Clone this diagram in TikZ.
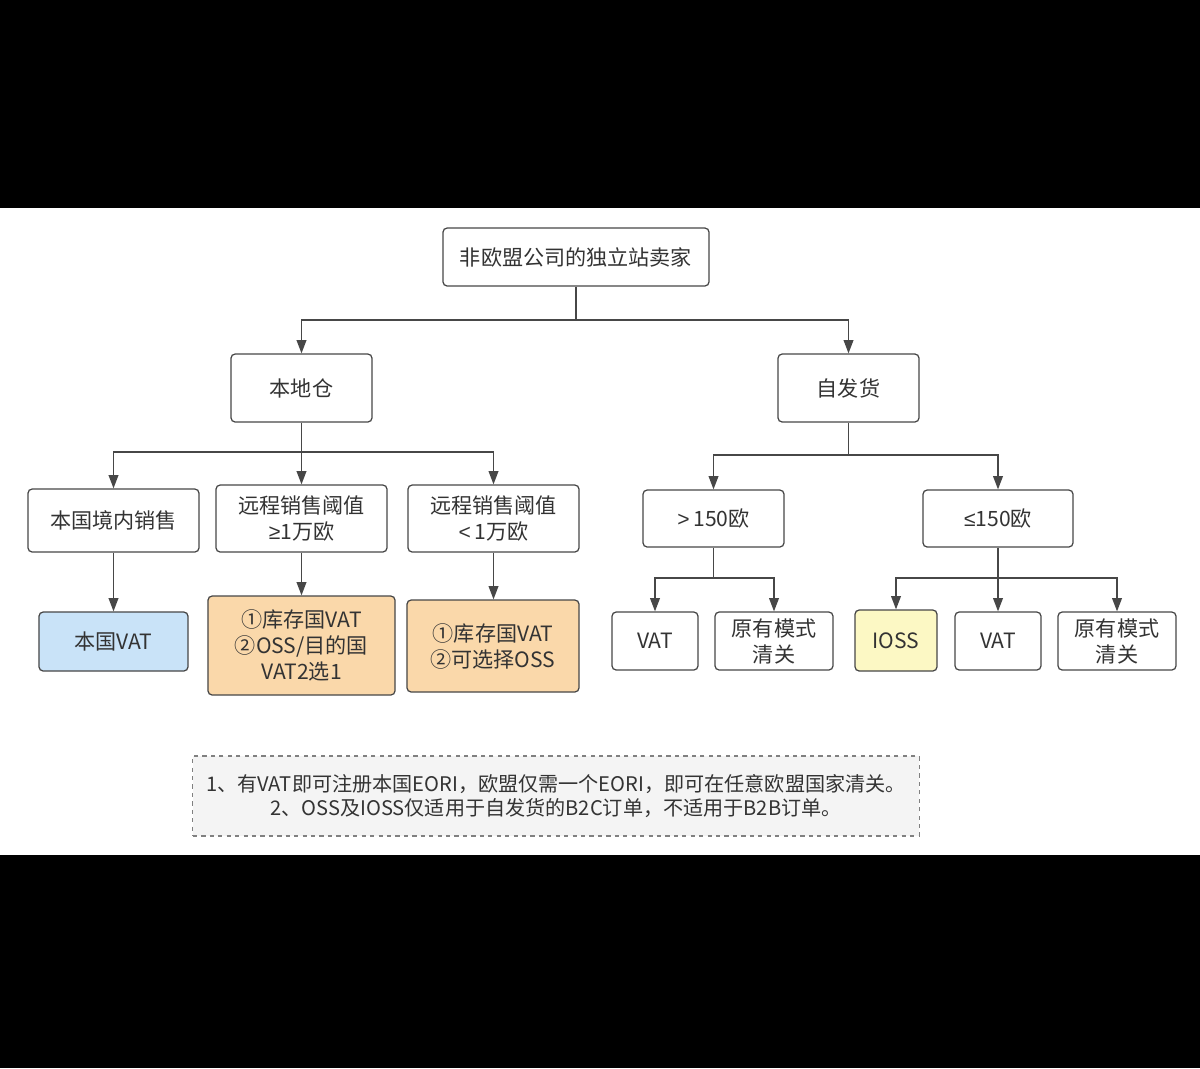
\documentclass[tikz,border=0pt]{standalone}
\usepackage{fontspec}
\setmainfont{Noto Sans CJK SC}
\newfontfamily\signfont{Liberation Sans}
\usetikzlibrary{arrows.meta}
\definecolor{linegray}{HTML}{474747}
\definecolor{textgray}{HTML}{333333}
\definecolor{vatblue}{HTML}{C9E3F8}
\definecolor{ossorange}{HTML}{FAD8AA}
\definecolor{iossyellow}{HTML}{FCF8C4}
\definecolor{notegray}{HTML}{F4F4F4}
\begin{document}
\begin{tikzpicture}[x=0.025cm,y=-0.025cm,
  box/.style={draw=linegray, line width=0.9pt, rounded corners=3pt, fill=white,
    text=textgray, align=center, inner sep=0pt, font=\fontsize{15}{18.5}\selectfont},
  link/.style={draw=linegray, line width=0.9pt},
  arr/.style={link, -{Triangle[length=9.5pt,width=7pt]}}]
  %Frame of the screenshot
  \fill[black] (0,0) rectangle (1200,1068);
  \fill[white] (0,208) rectangle (1200,855);

  %Seller
  \node[box, minimum width=6.65cm, minimum height=1.45cm] (seller) at (576,257) {非欧盟公司的独立站卖家};

  %Two ways of shipping
  \node[box, minimum width=3.525cm, minimum height=1.7cm] (local) at (301.5,388) {本地仓};
  \node[box, minimum width=3.525cm, minimum height=1.7cm] (self) at (848.5,388) {自发货};

  %Local warehouse
  \node[box, minimum width=4.275cm, minimum height=1.575cm] (domestic) at (113.5,520.5) {本国境内销售};
  \node[box, minimum width=4.275cm, minimum height=1.675cm] (above) at (301.5,518.5) {远程销售阈值\\{\signfont ≥}1万欧};
  \node[box, minimum width=4.275cm, minimum height=1.675cm] (below) at (493.5,518.5) {远程销售阈值\\{\signfont <\,}1万欧};
  \node[box, fill=vatblue, minimum width=3.725cm, minimum height=1.475cm] (domvat) at (113.5,641.5) {本国VAT};
  \node[box, fill=ossorange, minimum width=4.675cm, minimum height=2.475cm] (abovevat) at (301.5,645.5) {①库存国VAT\\②OSS/目的国\\VAT2选1};
  \node[box, fill=ossorange, minimum width=4.3cm, minimum height=2.3cm] (belowvat) at (493,646) {①库存国VAT\\②可选择OSS};

  %Self shipping
  \node[box, minimum width=3.525cm, minimum height=1.425cm] (high) at (713.5,518.5) {{\signfont >\,}150欧};
  \node[box, minimum width=3.75cm, minimum height=1.425cm] (low) at (998,518.5) {{\signfont ≤}150欧};
  \node[box, minimum width=2.15cm, minimum height=1.45cm] (highvat) at (655,641) {VAT};
  \node[box, minimum width=2.95cm, minimum height=1.45cm] (highold) at (774,641) {原有模式\\清关};
  \node[box, fill=iossyellow, minimum width=2.05cm, minimum height=1.525cm] (lowioss) at (896,640.5) {IOSS};
  \node[box, minimum width=2.15cm, minimum height=1.45cm] (lowvat) at (998,641) {VAT};
  \node[box, minimum width=2.95cm, minimum height=1.45cm] (lowold) at (1117,641) {原有模式\\清关};

  %Junctions
  \coordinate (j0) at (576,320);
  \coordinate (j1) at (301.5,452);
  \coordinate (j2) at (848.5,455);
  \coordinate (j3) at (713.5,578);
  \coordinate (j4) at (998,578);

  %Connectors
  \draw[link] (seller) -- (j0);
  \draw[arr] (j0) -| (local);
  \draw[arr] (j0) -| (self);
  \draw[link] (local) -- (j1);
  \draw[arr] (j1) -| (domestic);
  \draw[arr] (j1) -- (above);
  \draw[arr] (j1) -| (below);
  \draw[arr] (domestic) -- (domvat);
  \draw[arr] (above) -- (abovevat);
  \draw[arr] (below.south) -- (below.south |- belowvat.north);
  \draw[link] (self) -- (j2);
  \draw[arr] (j2) -| (high);
  \draw[arr] (j2) -| (low);
  \draw[link] (high) -- (j3);
  \draw[arr] (j3) -| (highvat);
  \draw[arr] (j3) -| (highold);
  \draw[link] (low) -- (j4);
  \draw[arr] (j4) -| (lowioss);
  \draw[arr] (j4) -- (lowvat);
  \draw[arr] (j4) -| (lowold);

  %Note
  \node[draw=gray, dashed, line width=0.8pt, fill=notegray, text=textgray, align=center,
    inner sep=0pt, minimum width=18.15cm, minimum height=2cm,
    font=\fontsize{14.3}{17.5}\selectfont] (note) at (556,796)
    {1、有VAT即可注册本国EORI，欧盟仅需一个EORI，即可在任意欧盟国家清关。\\2、OSS及IOSS仅适用于自发货的B2C订单，不适用于B2B订单。};
\end{tikzpicture}
\end{document}
